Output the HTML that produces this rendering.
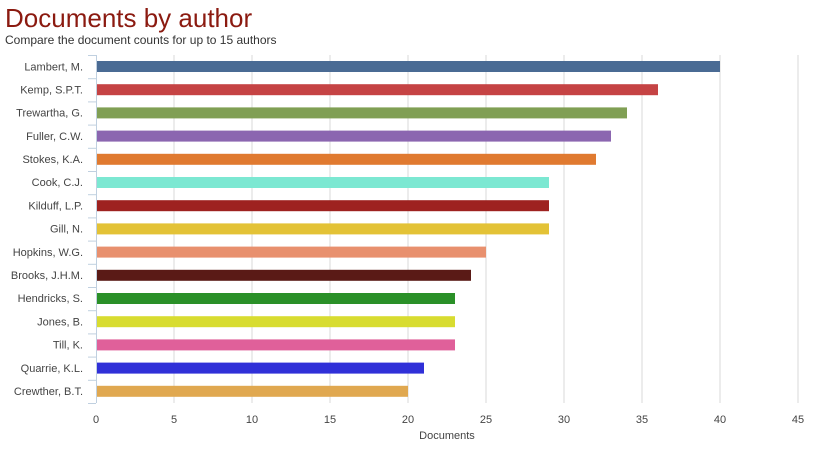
<!DOCTYPE html>
<html><head><meta charset="utf-8"><style>
body{margin:0;background:#fff;width:829px;height:451px;overflow:hidden}
</style></head><body>
<svg width="829" height="451" xmlns="http://www.w3.org/2000/svg" font-family="Liberation Sans, sans-serif">
<text x="5" y="27" font-size="26" fill="#8b1a10">Documents by author</text>
<text x="5" y="44" font-size="12" fill="#333">Compare the document counts for up to 15 authors</text>
<g stroke="#d8d8d8" stroke-width="1">
<line x1="174" y1="55" x2="174" y2="403"/><line x1="252" y1="55" x2="252" y2="403"/>
<line x1="330" y1="55" x2="330" y2="403"/><line x1="408" y1="55" x2="408" y2="403"/>
<line x1="486" y1="55" x2="486" y2="403"/><line x1="564" y1="55" x2="564" y2="403"/>
<line x1="642" y1="55" x2="642" y2="403"/><line x1="720" y1="55" x2="720" y2="403"/>
<line x1="798" y1="55" x2="798" y2="403"/>
</g>
<g stroke="#c0d0e0" stroke-width="1">
<line x1="96.5" y1="55" x2="96.5" y2="403"/>
<line x1="88" y1="55.5" x2="96" y2="55.5"/><line x1="88" y1="78.7" x2="96" y2="78.7"/><line x1="88" y1="101.9" x2="96" y2="101.9"/><line x1="88" y1="125.1" x2="96" y2="125.1"/><line x1="88" y1="148.3" x2="96" y2="148.3"/><line x1="88" y1="171.5" x2="96" y2="171.5"/><line x1="88" y1="194.7" x2="96" y2="194.7"/><line x1="88" y1="217.9" x2="96" y2="217.9"/><line x1="88" y1="241.1" x2="96" y2="241.1"/><line x1="88" y1="264.3" x2="96" y2="264.3"/><line x1="88" y1="287.5" x2="96" y2="287.5"/><line x1="88" y1="310.7" x2="96" y2="310.7"/><line x1="88" y1="333.9" x2="96" y2="333.9"/><line x1="88" y1="357.1" x2="96" y2="357.1"/><line x1="88" y1="380.3" x2="96" y2="380.3"/><line x1="88" y1="403.5" x2="96" y2="403.5"/>
</g>
<g>
<rect x="97" y="61" width="623" height="11" fill="#4a6b94"/>
<rect x="97" y="84.2" width="561" height="11" fill="#c54344"/>
<rect x="97" y="107.4" width="530" height="11" fill="#809f54"/>
<rect x="97" y="130.6" width="514" height="11" fill="#8b66b0"/>
<rect x="97" y="153.8" width="499" height="11" fill="#e07a30"/>
<rect x="97" y="177" width="452" height="11" fill="#7ce8d2"/>
<rect x="97" y="200.2" width="452" height="11" fill="#9e2220"/>
<rect x="97" y="223.4" width="452" height="11" fill="#e3c236"/>
<rect x="97" y="246.6" width="389" height="11" fill="#e8906e"/>
<rect x="97" y="269.8" width="374" height="11" fill="#5a1a16"/>
<rect x="97" y="293" width="358" height="11" fill="#2a9028"/>
<rect x="97" y="316.2" width="358" height="11" fill="#d8dc30"/>
<rect x="97" y="339.4" width="358" height="11" fill="#e0609a"/>
<rect x="97" y="362.6" width="327" height="11" fill="#3030d8"/>
<rect x="97" y="385.8" width="311" height="11" fill="#e0a850"/>
</g>
<g font-size="11" fill="#444" text-anchor="end">
<text x="83" y="70.5">Lambert, M.</text><text x="83" y="93.5">Kemp, S.P.T.</text><text x="83" y="116.5">Trewartha, G.</text><text x="83" y="140">Fuller, C.W.</text><text x="83" y="163">Stokes, K.A.</text><text x="83" y="186">Cook, C.J.</text><text x="83" y="209.5">Kilduff, L.P.</text><text x="83" y="232.5">Gill, N.</text><text x="83" y="256">Hopkins, W.G.</text><text x="83" y="279">Brooks, J.H.M.</text><text x="83" y="302">Hendricks, S.</text><text x="83" y="325.5">Jones, B.</text><text x="83" y="348.5">Till, K.</text><text x="83" y="372">Quarrie, K.L.</text><text x="83" y="395">Crewther, B.T.</text>
</g>
<g font-size="11" fill="#444" text-anchor="middle">
<text x="96" y="423">0</text><text x="174" y="423">5</text><text x="252" y="423">10</text><text x="330" y="423">15</text><text x="408" y="423">20</text><text x="486" y="423">25</text><text x="564" y="423">30</text><text x="642" y="423">35</text><text x="720" y="423">40</text><text x="798" y="423">45</text>
<text x="447" y="439" font-size="11">Documents</text>
</g>
</svg>
</body></html>
